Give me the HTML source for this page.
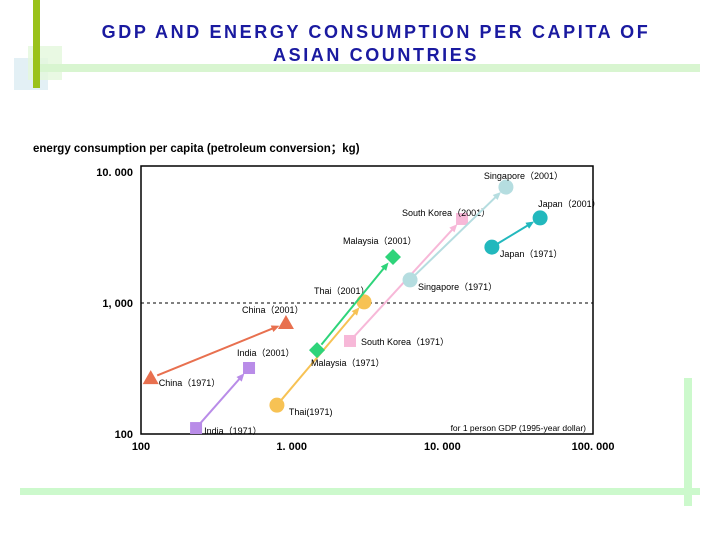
<!DOCTYPE html>
<html><head><meta charset="utf-8"><style>
body{margin:0;width:720px;height:540px;background:#fff;overflow:hidden;position:relative;font-family:"Liberation Sans",sans-serif}
.d{position:absolute}
</style></head><body>
<div class="d" style="left:14px;top:58px;width:34px;height:32px;background:#dcecf2;opacity:.8"></div>
<div class="d" style="left:28px;top:46px;width:34px;height:34px;background:#e4f8dc;opacity:.8"></div>
<div class="d" style="left:33px;top:0;width:7px;height:88px;background:#9ac21a"></div>
<div class="d" style="left:40px;top:64px;width:660px;height:8px;background:#d8f5d0"></div>
<div class="d" style="left:20px;top:488px;width:680px;height:7px;background:#ccf9cc"></div>
<div class="d" style="left:684px;top:378px;width:8px;height:128px;background:#ccf9cc"></div>
<div class="d" style="left:41px;top:21px;width:670px;text-align:center;color:#1a1aa0;font-weight:bold;font-size:18px;line-height:23px;letter-spacing:2.6px">GDP AND ENERGY CONSUMPTION PER CAPITA OF<br>ASIAN COUNTRIES</div>
<svg id="c" class="d" style="left:0;top:0" width="720" height="540"></svg>
<script>
const countries=["China","India","Thai","Malaysia","South Korea","Singapore","Japan"];
const gdp1971=[116,232,798,1472,2437,6100,21300];
const gdp2001=[916,521,3020,4700,13500,26400,44500];
const energy1971=[267,111,166,437,513,1500,2670];
const energy2001=[703,319,1019,2244,4380,7670,4460];
const xTicks=[100,1000,10000,100000];
const xTickLabels=["100","1. 000","10. 000","100. 000"];
const yTicks=[100,1000,10000];
const yTickLabels=["100","1, 000","10. 000"];
const colors=["#e8704f","#b98ce8","#f7c254","#2ed47a","#f7b8d8","#b5dde0","#22b8bd"];
const shapes=["tri","sq","circ","dia","sq","circ","circ"];
const label1971=["China（1971）","India（1971）","Thai(1971)","Malaysia（1971）","South Korea（1971）","Singapore（1971）","Japan（1971）"];
const label2001=["China（2001）","India（2001）","Thai（2001）","Malaysia（2001）","South Korea（2001）","Singapore（2001）","Japan（2001）"];
const off1971=[[8,8],[8,6],[12,10],[-6,16],[11,4],[8,10],[8,10]];
const off2001=[[-44,-10],[-12,-12],[-50,-8],[-50,-13],[-60,-3],[-22,-8],[-2,-11]];
const X=v=>141+(Math.log10(v)-2)*150.7;
const Y=v=>434-(Math.log10(v)-2)*131;
const s=document.getElementById('c');const NS="http://www.w3.org/2000/svg";
function E(t,a,p){const e=document.createElementNS(NS,t);for(const k in a)e.setAttribute(k,a[k]);(p||s).appendChild(e);return e;}
let r=E('rect',{x:141,y:166,width:452,height:268,fill:'none',stroke:'#000','stroke-width':1.5});


let dl=E('line',{x1:141,x2:593,y1:Y(1000),y2:Y(1000),stroke:'#000','stroke-dasharray':'3,3','stroke-width':1});


let t=E('text',{x:33,y:152,'font-size':11.5,'font-weight':'bold'});t.textContent="energy consumption per capita (petroleum conversion；kg)";


t=E('text',{x:586,y:431,'font-size':8.5,'text-anchor':'end'});t.textContent="for 1 person GDP (1995-year dollar)";


xTicks.forEach((v,i)=>{const e=E('text',{x:X(v),y:450,'font-size':11,'font-weight':'bold','text-anchor':'middle'});e.textContent=xTickLabels[i];

});
yTicks.forEach((v,i)=>{const e=E('text',{x:133,y:Y(v)+4,'font-size':11,'font-weight':'bold','text-anchor':'end'});e.textContent=yTickLabels[i];

});
function marker(sh,x,y,c){let e;
 if(sh=='tri')e=E('polygon',{points:`${x},${y-8} ${x-8},${y+6} ${x+8},${y+6}`,fill:c});
 else if(sh=='sq')e=E('rect',{x:x-6,y:y-6,width:12,height:12,fill:c});
 else if(sh=='dia')e=E('polygon',{points:`${x},${y-8} ${x+8},${y} ${x},${y+8} ${x-8},${y}`,fill:c});
 else e=E('circle',{cx:x,cy:y,r:7.5,fill:c});
 return e;}
countries.forEach((n,i)=>{
 const x1=X(gdp1971[i]),y1=Y(energy1971[i]),x2=X(gdp2001[i]),y2=Y(energy2001[i]);
 const dx=x2-x1,dy=y2-y1,L=Math.hypot(dx,dy),ux=dx/L,uy=dy/L;
 const sx=x1+ux*7,sy=y1+uy*7,ex=x2-ux*12,ey=y2-uy*12;
 const ln=E('line',{x1:sx,y1:sy,x2:ex,y2:ey,stroke:colors[i],'stroke-width':2});
 
 
 const px=-uy,py=ux;
 const ah=E('polygon',{points:`${ex+ux*5},${ey+uy*5} ${ex-ux*3+px*3.5},${ey-uy*3+py*3.5} ${ex-ux*3-px*3.5},${ey-uy*3-py*3.5}`,fill:colors[i]});
 
 
 const m1=marker(shapes[i],x1,y1,colors[i]);
 
 
 const m2=marker(shapes[i],x2,y2,colors[i]);
 
 
 let a=E('text',{x:x1+off1971[i][0],y:y1+off1971[i][1],'font-size':9});a.textContent=label1971[i];
 
 
 let b=E('text',{x:x2+off2001[i][0],y:y2+off2001[i][1],'font-size':9});b.textContent=label2001[i];
 
 
});
</script>
</body></html>
